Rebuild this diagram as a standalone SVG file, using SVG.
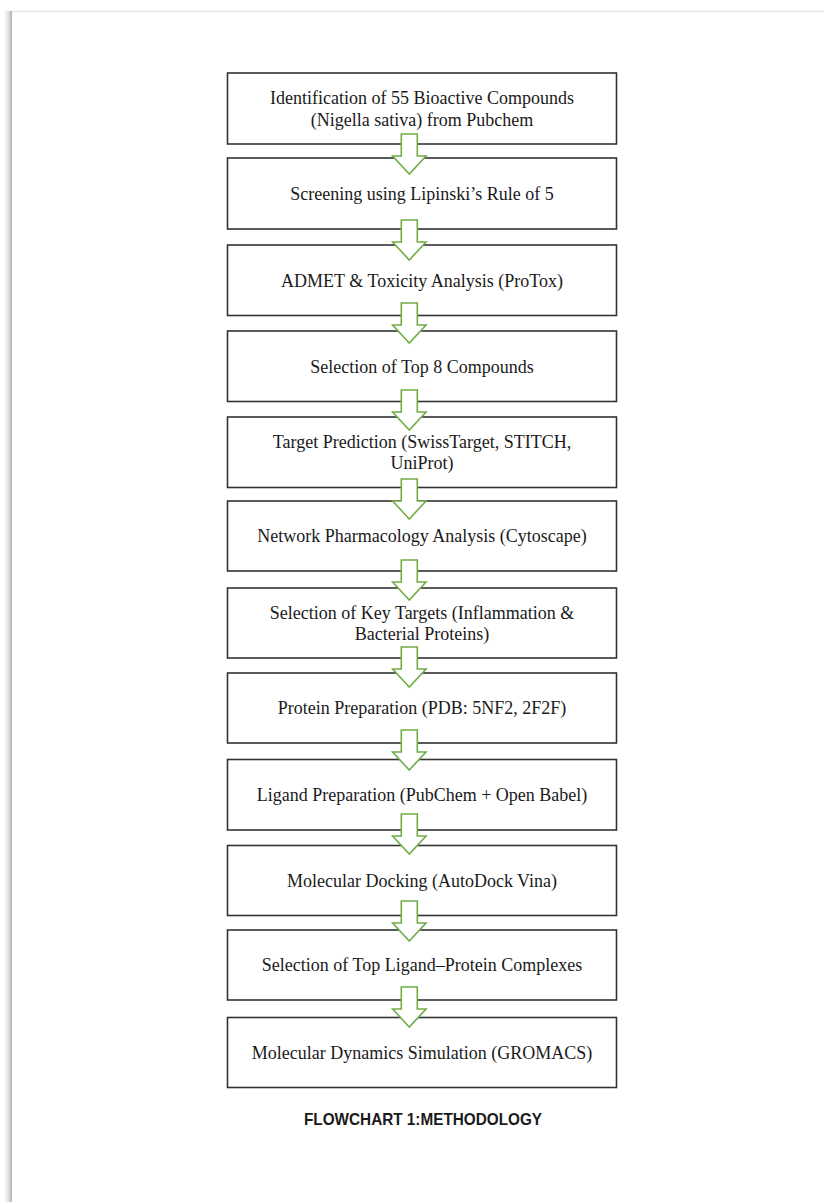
<svg xmlns="http://www.w3.org/2000/svg" width="824" height="1202" viewBox="0 0 824 1202">
<defs>
<linearGradient id="shadow" x1="0" y1="0" x2="1" y2="0">
<stop offset="0" stop-color="#ffffff"/>
<stop offset="1" stop-color="#d4d4d4"/>
</linearGradient>
</defs>
<style>
.box{fill:#ffffff;stroke:#333333;stroke-width:1.6}
.lbl{font-family:"Liberation Serif","Times New Roman",serif;font-size:18px;fill:#1a1a1a;text-anchor:middle}
.arr{fill:#ffffff;stroke:#70ad47;stroke-width:1.6;stroke-linejoin:miter}
.cap{font-family:"Liberation Sans",Arial,sans-serif;font-weight:bold;font-size:16.5px;fill:#1a1a1a;text-anchor:middle}
</style>
<rect x="0" y="0" width="824" height="1202" fill="#ffffff"/>
<rect x="4" y="11" width="6" height="1191" fill="url(#shadow)"/>
<line x1="10" y1="11.5" x2="824" y2="11.5" stroke="#e6e6e6" stroke-width="1.5"/>
<line x1="11" y1="11" x2="11" y2="1202" stroke="#bdbdbd" stroke-width="2"/>

<g id="n1"><rect class="box" x="227.5" y="73" width="389" height="71"/>
<text class="lbl" x="422" y="104">Identification of 55 Bioactive Compounds</text>
<text class="lbl" x="422" y="125.5">(Nigella sativa) from Pubchem</text></g>
<g id="n2"><rect class="box" x="227.5" y="158" width="389" height="71"/>
<text class="lbl" x="422" y="199.5">Screening using Lipinski’s Rule of 5</text></g>
<g id="n3"><rect class="box" x="227.5" y="245" width="389" height="70.5"/>
<text class="lbl" x="422" y="286.5">ADMET &amp; Toxicity Analysis (ProTox)</text></g>
<g id="n4"><rect class="box" x="227.5" y="331" width="389" height="70.5"/>
<text class="lbl" x="422" y="372.5">Selection of Top 8 Compounds</text></g>
<g id="n5"><rect class="box" x="227.5" y="417" width="389" height="70.5"/>
<text class="lbl" x="422" y="447.7">Target Prediction (SwissTarget, STITCH,</text>
<text class="lbl" x="422" y="469">UniProt)</text></g>
<g id="n6"><rect class="box" x="227.5" y="501" width="389" height="70"/>
<text class="lbl" x="422" y="542">Network Pharmacology Analysis (Cytoscape)</text></g>
<g id="n7"><rect class="box" x="227.5" y="588" width="389" height="70"/>
<text class="lbl" x="422" y="618.5">Selection of Key Targets (Inflammation &amp;</text>
<text class="lbl" x="422" y="639.5">Bacterial Proteins)</text></g>
<g id="n8"><rect class="box" x="227.5" y="673" width="389" height="70"/>
<text class="lbl" x="422" y="714">Protein Preparation (PDB: 5NF2, 2F2F)</text></g>
<g id="n9"><rect class="box" x="227.5" y="759.5" width="389" height="70.5"/>
<text class="lbl" x="422" y="800.8">Ligand Preparation (PubChem + Open Babel)</text></g>
<g id="n10"><rect class="box" x="227.5" y="845.5" width="389" height="70"/>
<text class="lbl" x="422" y="886.5">Molecular Docking (AutoDock Vina)</text></g>
<g id="n11"><rect class="box" x="227.5" y="930" width="389" height="70"/>
<text class="lbl" x="422" y="971">Selection of Top Ligand–Protein Complexes</text></g>
<g id="n12"><rect class="box" x="227.5" y="1017.5" width="389" height="70"/>
<text class="lbl" x="422" y="1058.5">Molecular Dynamics Simulation (GROMACS)</text></g>

<g id="connectors">
<path class="arr" d="M401.3,134 H417.3 V156 H426 L409.3,174 L392.6,156 H401.3 Z"/>
<path class="arr" d="M401.3,220 H417.3 V242 H426 L409.3,260 L392.6,242 H401.3 Z"/>
<path class="arr" d="M401.3,303 H417.3 V325 H426 L409.3,343 L392.6,325 H401.3 Z"/>
<path class="arr" d="M401.3,390 H417.3 V412 H426 L409.3,430 L392.6,412 H401.3 Z"/>
<path class="arr" d="M401.3,479 H417.3 V501 H426 L409.3,519 L392.6,501 H401.3 Z"/>
<path class="arr" d="M401.3,560 H417.3 V582 H426 L409.3,600 L392.6,582 H401.3 Z"/>
<path class="arr" d="M401.3,647 H417.3 V669 H426 L409.3,687 L392.6,669 H401.3 Z"/>
<path class="arr" d="M401.3,730 H417.3 V752 H426 L409.3,770 L392.6,752 H401.3 Z"/>
<path class="arr" d="M401.3,814 H417.3 V836 H426 L409.3,854 L392.6,836 H401.3 Z"/>
<path class="arr" d="M401.3,901 H417.3 V923 H426 L409.3,941 L392.6,923 H401.3 Z"/>
<path class="arr" d="M401.3,987 H417.3 V1009 H426 L409.3,1027 L392.6,1009 H401.3 Z"/>
</g>

<text class="cap" x="423" y="1125" textLength="238" lengthAdjust="spacingAndGlyphs">FLOWCHART 1:METHODOLOGY</text>
</svg>
